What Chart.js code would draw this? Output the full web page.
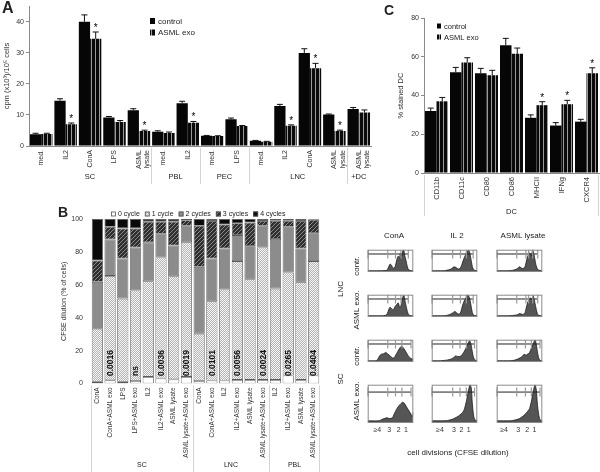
<!DOCTYPE html>
<html lang="en">
<head>
<meta charset="UTF-8">
<title>ASML exosomes figure</title>
<style>
  body { margin: 0; background: #fff; }
  #page { position: relative; width: 600px; height: 472px; overflow: hidden; }
  #page canvas { position: absolute; }
</style>
</head>
<body>
<div id="page">
  <canvas id="texts" style="left:0;top:0" width="600" height="472"></canvas>
  <canvas id="chartA" style="left:0;top:0" width="380" height="190"></canvas>
  <canvas id="chartC" style="left:380px;top:0" width="220" height="232"></canvas>
  <canvas id="chartB" style="left:58px;top:205px" width="272" height="267"></canvas>
</div>
<script src="https://cdn.jsdelivr.net/npm/chart.js@4.4.0/dist/chart.umd.min.js"></script>
<script>
// ---- panel A: proliferation (cpm) ----
const catsA = ['med.', 'IL2', 'ConA', 'LPS', ['ASML', 'lysate'], 'med.', 'IL2', 'med.', 'LPS', 'med.', 'IL2', 'ConA', ['ASML', 'lysate'], ['ASML', 'lysate']];
const groupsA = ['SC', 'PBL', 'PEC', 'LNC', '+DC'];
const groupSizesA = [5, 2, 2, 4, 1];
const controlA = [3.8, 14.6, 40.0, 9.2, 11.5, 4.6, 13.8, 3.3, 8.6, 1.7, 12.9, 29.9, 10.1, 11.9];
const exoA = [3.9, 7.0, 34.5, 7.7, 4.8, 4.2, 7.5, 3.2, 6.4, 1.4, 6.5, 25.0, 4.8, 10.8];
const controlErrA = [0.3, 0.6, 2.2, 0.3, 0.5, 0.3, 0.6, 0.1, 0.4, 0.1, 0.5, 1.4, 0.2, 0.5];
const exoErrA = [0.2, 0.4, 2.2, 0.5, 0.3, 0.3, 0.4, 0.1, 0.2, 0.1, 0.3, 1.6, 0.3, 0.8];
const starsA = [0, 1, 1, 0, 1, 0, 1, 0, 0, 0, 1, 1, 1, 0];

// ---- panel C: DC markers ----
const catsC = ['CD11b', 'CD11c', 'CD80', 'CD86', 'MHCII', 'IFNg', 'CXCR4'];
const controlC = [32, 52, 51.5, 66, 28.5, 24.5, 26.5];
const exoC = [37, 57, 50.5, 61.5, 35, 35.5, 51.5];
const controlErrC = [1.5, 2.5, 2.5, 3.5, 1.5, 1.5, 1.2];
const exoErrC = [2, 2.5, 2.5, 3, 1.8, 2, 2.8];
const starsC = [0, 0, 0, 0, 1, 1, 1];

// ---- panel B: CFSE dilution ----
const catsB = ['ConA', 'ConA+ASML exo', 'LPS', 'LPS+ASML exo', 'IL2', 'IL2+ASML exo', 'ASML lysate', 'ASML lysate+ASML exo',
               'ConA', 'ConA+ASML exo', 'IL2', 'IL2+ASML exo', 'ASML lysate', 'ASML lysate+ASML exo',
               'IL2', 'IL2+ASML exo', 'ASML lysate', 'ASML lysate+ASML exo'];
const groupsB = ['SC', 'LNC', 'PBL'];
const groupSizesB = [8, 6, 4];
const cycle0B = [1, 2, 1, 1.5, 4, 3, 2.5, 4, 1.5, 1.8, 1.8, 2.2, 2.2, 2.2, 2.2, 4.9, 2.2, 4.9];
const cycle1B = [32.3, 63.4, 50.6, 55, 58.2, 73.6, 62.7, 81.8, 28.8, 48.2, 55.3, 72.2, 61.2, 80.5, 55.5, 62.6, 59.6, 69.5];
const cycle2B = [28.5, 22.2, 24.4, 26.2, 23.6, 14.4, 18.7, 10.1, 40.6, 26, 25, 15.8, 20.1, 13.2, 30.1, 27.8, 20.3, 16.9];
const cycle3B = [13, 7.7, 18.3, 11.6, 12.6, 7.4, 14.5, 3.3, 25, 22.8, 14.6, 7.2, 14.3, 2.9, 11.2, 3.7, 16.7, 8.3];
const cycle4B = [25.2, 4.7, 5.7, 5.7, 1.6, 1.6, 1.6, 0.8, 4.1, 1.2, 3.3, 2.6, 2.2, 1.2, 1, 1, 1.2, 0.4];
const pValuesB = ['', '0.0016', '', 'ns', '', '0.0036', '', '0.0019', '', '0.0101', '', '0.0056', '', '0.0024', '', '0.0265', '', '0.0404'];

// ---- flow histograms (x: CFSE position 0-100, y: relative count) ----
const lncContrConA = [[0,.02],[20,.02],[40,.03],[43,.06],[46,.2],[49,.33],[52,.28],[56,.14],[60,.2],[64,.55],[67,.7],[70,.64],[72,.85],[75,.7],[77,.95],[79,1],[81,.75],[84,.5],[87,.2],[90,.06],[95,.02],[100,.02]];
const lncExoConA = [[0,.02],[20,.02],[38,.03],[43,.12],[46,.3],[49,.42],[52,.36],[56,.3],[60,.45],[64,.55],[67,.62],[70,.42],[73,.5],[76,.8],[79,.98],[82,.7],[85,.4],[88,.15],[92,.03],[100,.02]];
const scContrConA = [[0,.02],[18,.02],[22,.08],[26,.25],[30,.32],[35,.35],[40,.4],[44,.33],[49,.25],[54,.15],[58,.16],[62,.3],[66,.45],[70,.6],[74,.7],[77,.65],[82,.5],[86,.35],[90,.22],[95,.12],[100,.08]];
const scExoConA = [[0,.02],[25,.02],[30,.05],[36,.08],[42,.1],[48,.08],[54,.1],[58,.2],[64,.35],[70,.45],[76,.52],[80,.5],[85,.4],[90,.3],[95,.2],[98,.12],[100,.25]];
const lncContrIl2 = [[0,.02],[25,.02],[30,.03],[38,.06],[44,.12],[49,.2],[53,.17],[58,.1],[62,.12],[66,.3],[70,.55],[74,.75],[78,.9],[81,1],[84,.8],[87,.45],[90,.15],[94,.04],[100,.02]];
const lncExoIl2 = [[0,.02],[25,.02],[32,.03],[40,.08],[46,.15],[51,.22],[55,.15],[59,.1],[63,.15],[67,.45],[71,.7],[75,.85],[78,1],[81,.95],[84,.75],[87,.4],[90,.1],[94,.03],[100,.02]];
const scContrIl2 = [[0,.02],[20,.02],[30,.04],[40,.08],[48,.16],[52,.24],[57,.22],[62,.22],[66,.28],[70,.4],[75,.6],[80,.85],[83,.95],[86,.8],[89,.45],[92,.15],[96,.04],[100,.02]];
const scExoIl2 = [[0,.02],[25,.02],[35,.03],[45,.06],[55,.12],[62,.18],[68,.25],[72,.35],[76,.55],[80,.8],[84,1],[87,.9],[89,.5],[92,.15],[95,.04],[100,.02]];
const lncContrLys = [[0,.02],[25,.02],[35,.04],[44,.1],[50,.2],[54,.15],[58,.12],[62,.2],[66,.55],[70,.8],[73,.85],[76,.7],[79,1],[82,.75],[86,.3],[90,.08],[95,.03],[100,.02]];
const lncExoLys = [[0,.02],[25,.02],[35,.03],[45,.06],[50,.12],[54,.1],[58,.08],[62,.15],[66,.5],[70,.75],[74,.85],[77,.8],[80,.95],[83,.7],[87,.3],[90,.08],[95,.02],[100,.02]];
const scContrLys = [[0,.02],[30,.02],[40,.05],[48,.12],[55,.2],[60,.32],[64,.28],[68,.33],[72,.4],[76,.6],[80,.8],[84,1],[87,.75],[90,.35],[93,.1],[96,.03],[100,.02]];
const scExoLys = [[0,.02],[30,.02],[40,.04],[50,.08],[58,.15],[64,.22],[68,.28],[72,.35],[76,.55],[80,.8],[84,1],[87,.85],[89,.5],[92,.2],[95,.05],[100,.02]];

const gatesLncConA = [0, 44, 61, 73, 89];
const gatesScConA = [0, 44, 61, 75, 95];
const gatesLncIl2 = [0, 46, 63, 76, 91];
const gatesScIl2 = [0, 46, 62, 76, 94];
const gatesLncLys = [0, 44, 64, 70, 79, 90];
const gatesScLys = [0, 44, 63, 76, 95];
const gateLevel = 0.8;

const histTitles = ['ConA', 'IL 2', 'ASML lysate'];
const histRowLabels = ['contr.', 'ASML exo.', 'contr.', 'ASML exo.'];
const histGroups = ['LNC', 'SC'];
const divisionLabels = ['≥4', '3', '2', '1'];
const divisionTicksConA = [21, 47, 68, 84];
const divisionTicksIl2 = [18, 49, 65, 81];
const divisionTicksLys = [16, 47, 67, 83];

const FONT = '"Liberation Sans", Arial, sans-serif';
Chart.defaults.font.family = FONT;
Chart.defaults.color = '#333';
Chart.defaults.animation = false;
Chart.defaults.plugins.legend.display = false;
Chart.defaults.plugins.tooltip.enabled = false;

function makePattern(w, h, draw) {
  const c = document.createElement('canvas');
  c.width = w; c.height = h;
  const g = c.getContext('2d');
  draw(g);
  return g.createPattern(c, 'repeat');
}
const stripes = makePattern(4, 4, g => {
  g.fillStyle = '#0a0a0a'; g.fillRect(0, 0, 4, 4);
  g.fillStyle = '#9a9a9a'; g.fillRect(3, 0, 1, 4);
});
const dots = makePattern(2, 2, g => {
  g.fillStyle = '#f6f6f6'; g.fillRect(0, 0, 2, 2);
  g.fillStyle = '#b4b4b4'; g.fillRect(0, 0, 1, 1); g.fillRect(1, 1, 1, 1);
});
const hatch = makePattern(4, 4, g => {
  g.fillStyle = '#303030'; g.fillRect(0, 0, 4, 4);
  g.fillStyle = '#8a8a8a';
  g.fillRect(0, 3, 1, 1); g.fillRect(1, 2, 1, 1); g.fillRect(2, 1, 1, 1); g.fillRect(3, 0, 1, 1);
});

// free text of the figure (panel letters, histogram headings)
const tctx = document.getElementById('texts').getContext('2d');
function put(text, x, y, font, rot, align) {
  tctx.save();
  tctx.font = font; tctx.fillStyle = '#222';
  tctx.textAlign = align || 'center'; tctx.textBaseline = 'middle';
  tctx.translate(x, y);
  if (rot) tctx.rotate(-Math.PI / 2);
  tctx.fillText(text, 0, 0);
  tctx.restore();
}
put('A', 2, 9, 'bold 16px ' + FONT, false, 'left');
put('B', 58, 213, 'bold 14px ' + FONT, false, 'left');
put('C', 384, 11, 'bold 14px ' + FONT, false, 'left');
[394, 457, 523].forEach((x, i) => put(histTitles[i], x, 236, '8px ' + FONT));
[266, 310, 356, 401].forEach((y, i) => put(histRowLabels[i], 357, y, '8px ' + FONT, true));
[289, 379].forEach((y, i) => put(histGroups[i], 341, y, '8px ' + FONT, true));
put('cell divisions (CFSE dilution)', 458, 453, '8px ' + FONT);

// error bars + asterisks on top of bars
const errorBars = {
  id: 'errorBars',
  afterDatasetsDraw(chart) {
    const ctx = chart.ctx, y = chart.scales.y;
    chart.data.datasets.forEach((ds, di) => {
      if (!ds.errors) return;
      chart.getDatasetMeta(di).data.forEach((bar, i) => {
        const top = y.getPixelForValue(ds.data[i] + ds.errors[i]);
        ctx.save();
        ctx.strokeStyle = '#111'; ctx.lineWidth = 1;
        ctx.beginPath();
        ctx.moveTo(bar.x, bar.y); ctx.lineTo(bar.x, top);
        ctx.moveTo(bar.x - 3, top); ctx.lineTo(bar.x + 3, top);
        ctx.stroke();
        if (ds.stars && ds.stars[i]) {
          ctx.fillStyle = '#000'; ctx.font = '10px ' + FONT;
          ctx.textAlign = 'center'; ctx.textBaseline = 'alphabetic';
          ctx.fillText('*', bar.x, top - 1);
        }
        ctx.restore();
      });
    });
  }
};

// group names under the category labels, with faint separators
const groupLabels = {
  id: 'groupLabels',
  afterDraw(chart, args, o) {
    if (!o.names) return;
    const {ctx, chartArea} = chart, x = chart.scales.x;
    const half = (x.getPixelForValue(1) - x.getPixelForValue(0)) / 2;
    ctx.save();
    ctx.font = o.font; ctx.fillStyle = '#222';
    ctx.textAlign = 'center'; ctx.textBaseline = 'middle';
    ctx.strokeStyle = '#d4d4d4'; ctx.lineWidth = 1;
    let start = 0;
    o.names.forEach((name, gi) => {
      const n = o.sizes[gi];
      const x0 = x.getPixelForValue(start) - half;
      const x1 = x.getPixelForValue(start + n - 1) + half;
      ctx.fillText(name, (x0 + x1) / 2, o.labelY);
      if (gi > 0 || o.edges) {
        ctx.beginPath(); ctx.moveTo(Math.round(x0) + 0.5, chartArea.bottom + 2); ctx.lineTo(Math.round(x0) + 0.5, o.lineEnd); ctx.stroke();
      }
      if (gi === o.names.length - 1 && o.edges) {
        ctx.beginPath(); ctx.moveTo(Math.round(x1) - 0.5, chartArea.bottom + 2); ctx.lineTo(Math.round(x1) - 0.5, o.lineEnd); ctx.stroke();
      }
      start += n;
    });
    ctx.restore();
  }
};

// small box legend drawn from the datasets
const boxLegend = {
  id: 'boxLegend',
  afterDraw(chart, args, o) {
    if (o.x === undefined) return;
    const ctx = chart.ctx;
    ctx.save();
    ctx.font = o.font; ctx.textBaseline = 'middle'; ctx.textAlign = 'left';
    let x = o.x, y = o.y;
    chart.data.datasets.forEach(ds => {
      ctx.fillStyle = ds.backgroundColor;
      ctx.fillRect(x, y - o.boxH / 2, o.boxW, o.boxH);
      if (o.stroke) { ctx.strokeStyle = '#555'; ctx.lineWidth = 0.8; ctx.strokeRect(x + 0.5, y - o.boxH / 2 + 0.5, o.boxW - 1, o.boxH - 1); }
      ctx.fillStyle = '#222';
      ctx.fillText(ds.label, x + o.boxW + o.gap, y + 0.5);
      if (o.vertical) y += o.step;
      else x += o.boxW + o.gap + ctx.measureText(ds.label).width + o.space;
    });
    ctx.restore();
  }
};

// p-values written inside the stacked bars
const barNotes = {
  id: 'barNotes',
  afterDatasetsDraw(chart, args, o) {
    if (!o.texts) return;
    const ctx = chart.ctx, meta = chart.getDatasetMeta(0);
    ctx.save();
    ctx.font = 'bold 8.5px ' + FONT;
    ctx.fillStyle = '#111'; ctx.textAlign = 'left'; ctx.textBaseline = 'middle';
    o.texts.forEach((t, i) => {
      if (!t) return;
      ctx.save();
      ctx.translate(meta.data[i].x + 0.5, chart.chartArea.bottom - o.lift);
      ctx.rotate(-Math.PI / 2);
      ctx.fillText(t, 0, 0);
      ctx.restore();
    });
    ctx.restore();
  }
};

function yAxis(max, step, width, title, titlePad) {
  return {
    min: 0, max: max,
    afterBuildTicks: s => { s.ticks = s.ticks.filter(t => t.value % step === 0); },
    afterFit: s => { s.width = width; },
    ticks: { stepSize: step, font: { size: 7 }, padding: 2 },
    grid: { display: true, drawOnChartArea: false, drawTicks: true, tickLength: 3, color: '#8a8a8a' },
    border: { display: true, color: '#8a8a8a' },
    title: { display: true, text: title, font: { size: 7.5 }, color: '#333', padding: { top: titlePad, bottom: 0 } }
  };
}
function xAxis(height, fontSize, pad) {
  return {
    afterFit: s => { s.height = height; },
    ticks: { font: { size: fontSize }, maxRotation: 90, minRotation: 90, autoSkip: false, padding: pad },
    grid: { display: false, drawTicks: false },
    border: { display: true, color: '#8a8a8a' }
  };
}

new Chart(document.getElementById('chartA'), {
  type: 'bar',
  data: {
    labels: catsA,
    datasets: [
      { label: 'control', data: controlA, errors: controlErrA, backgroundColor: '#060606' },
      { label: 'ASML exo', data: exoA, errors: exoErrA, stars: starsA, backgroundColor: stripes }
    ]
  },
  options: {
    responsive: false, devicePixelRatio: 1,
    layout: { padding: { left: 0, right: 9, top: 0, bottom: 0 } },
    datasets: { bar: { categoryPercentage: 0.92, barPercentage: 1 } },
    scales: { x: xAxis(44, 7, 4), y: yAxis(45, 10, 29, 'cpm (x10³)/10⁵ cells', 2) },
    plugins: {
      groupLabels: { names: groupsA, sizes: groupSizesA, labelY: 177, lineEnd: 184, font: '7.5px ' + FONT },
      boxLegend: { x: 150, y: 21, vertical: true, step: 11.5, boxW: 5, boxH: 6, gap: 3, font: '8px ' + FONT }
    }
  },
  plugins: [errorBars, groupLabels, boxLegend]
});

new Chart(document.getElementById('chartC'), {
  type: 'bar',
  data: {
    labels: catsC,
    datasets: [
      { label: 'control', data: controlC, errors: controlErrC, backgroundColor: '#060606' },
      { label: 'ASML exo', data: exoC, errors: exoErrC, stars: starsC, backgroundColor: stripes }
    ]
  },
  options: {
    responsive: false, devicePixelRatio: 1,
    layout: { padding: { left: 0, right: 1, top: 18, bottom: 0 } },
    datasets: { bar: { categoryPercentage: 0.92, barPercentage: 1 } },
    scales: { x: xAxis(59, 7.5, 4), y: yAxis(80, 20, 44, '% stained DC', 16) },
    plugins: {
      groupLabels: { names: ['DC'], sizes: [7], labelY: 212, lineEnd: 216, edges: true, font: '7.5px ' + FONT },
      boxLegend: { x: 57, y: 26, vertical: true, step: 11, boxW: 4, boxH: 5, gap: 3, font: '7.5px ' + FONT }
    }
  },
  plugins: [errorBars, groupLabels, boxLegend]
});

new Chart(document.getElementById('chartB'), {
  type: 'bar',
  data: {
    labels: catsB,
    datasets: [
      { label: '0 cycle', data: cycle0B, backgroundColor: '#ffffff' },
      { label: '1 cycle', data: cycle1B, backgroundColor: dots },
      { label: '2 cycles', data: cycle2B, backgroundColor: '#8c8c8c' },
      { label: '3 cycles', data: cycle3B, backgroundColor: hatch },
      { label: '4 cycles', data: cycle4B, backgroundColor: '#0a0a0a' }
    ]
  },
  options: {
    responsive: false, devicePixelRatio: 1,
    layout: { padding: { left: 0, right: 10, top: 14, bottom: 0 } },
    datasets: { bar: { categoryPercentage: 1, barPercentage: 0.88, borderColor: '#5a5a5a', borderWidth: 0.8, borderSkipped: false } },
    scales: {
      x: { stacked: true, afterFit: s => { s.height = 88.5; },
           ticks: { font: { size: 6.5 }, maxRotation: 90, minRotation: 90, autoSkip: false, padding: 4 },
           grid: { display: false, drawTicks: false }, border: { display: false } },
      y: { stacked: true, min: 0, max: 100, afterFit: s => { s.width = 33; },
           ticks: { stepSize: 20, font: { size: 7 }, padding: 8 },
           grid: { display: false, drawTicks: false }, border: { display: false },
           title: { display: true, text: 'CFSE dilution (% of cells)', font: { size: 7 }, color: '#333', padding: { top: 2, bottom: 0 } } }
    },
    plugins: {
      groupLabels: { names: groupsB, sizes: groupSizesB, labelY: 260, lineEnd: 267, edges: true, font: '7px ' + FONT },
      boxLegend: { x: 53, y: 9, vertical: false, boxW: 5, boxH: 5, gap: 2, space: 5, stroke: true, font: '7px ' + FONT },
      barNotes: { texts: pValuesB, lift: 7.5 }
    }
  },
  plugins: [groupLabels, boxLegend, barNotes]
});

// ---- flow cytometry grid ----
const boxFrame = {
  id: 'boxFrame',
  afterDraw(chart) {
    const {ctx, chartArea: a} = chart;
    ctx.save(); ctx.strokeStyle = '#8a8a8a'; ctx.lineWidth = 1;
    ctx.strokeRect(a.left + 0.5, a.top + 0.5, a.width - 1, a.height - 1);
    ctx.restore();
  }
};
function histChart(canvas, pts, gates, ticks) {
  new Chart(canvas, {
    type: 'line',
    data: {
      datasets: [
        { data: gates.map(x => ({ x: x, y: gateLevel })), borderColor: '#222', borderWidth: 1, fill: false,
          pointStyle: 'line', rotation: 90, pointRadius: 4.5, pointBorderWidth: 1.2,
          pointBorderColor: gates.map((g, i) => i === 0 ? '#222' : '#9a9a9a') },
        { data: pts.map(p => ({ x: p[0], y: p[1] })), borderColor: '#1c1c1c', borderWidth: 0.8,
          backgroundColor: '#555555', fill: 'start', pointRadius: 0, tension: 0.25 }
      ]
    },
    options: {
      responsive: false, devicePixelRatio: 1,
      layout: { padding: 0 },
      scales: {
        x: { type: 'linear', min: 0, max: 100, display: !!ticks,
             afterBuildTicks: s => { if (ticks) s.ticks = ticks.map(v => ({ value: v })); },
             afterFit: s => { s.height = 16; },
             ticks: { font: { size: 7 }, maxRotation: 0, autoSkip: false, padding: 3, callback: (v, i) => divisionLabels[i] },
             grid: { display: false, drawTicks: false }, border: { display: false } },
        y: { min: -0.04, max: 1, display: false }
      }
    },
    plugins: [boxFrame]
  });
}

const histCols = [
  { rows: [lncContrConA, lncExoConA, scContrConA, scExoConA], gates: [gatesLncConA, gatesLncConA, gatesScConA, gatesScConA], ticks: divisionTicksConA },
  { rows: [lncContrIl2, lncExoIl2, scContrIl2, scExoIl2], gates: [gatesLncIl2, gatesLncIl2, gatesScIl2, gatesScIl2], ticks: divisionTicksIl2 },
  { rows: [lncContrLys, lncExoLys, scContrLys, scExoLys], gates: [gatesLncLys, gatesLncLys, gatesScLys, gatesScLys], ticks: divisionTicksLys }
];
const colLeft = [362, 426, 491];
const rowTop = [244, 289, 334, 379];
const page = document.getElementById('page');
histCols.forEach((col, c) => {
  col.rows.forEach((pts, r) => {
    const last = r === col.rows.length - 1;
    const cv = document.createElement('canvas');
    cv.width = 57; cv.height = last ? 60 : 44;
    cv.style.left = colLeft[c] + 'px';
    cv.style.top = rowTop[r] + 'px';
    page.appendChild(cv);
    histChart(cv, pts, col.gates[r], last ? col.ticks : null);
  });
});
</script>
</body>
</html>
